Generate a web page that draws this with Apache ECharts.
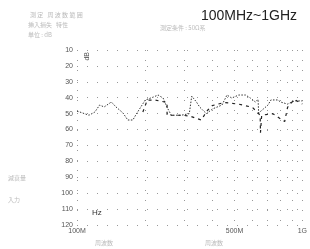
<!DOCTYPE html>
<html><head><meta charset="utf-8">
<script src="https://cdn.jsdelivr.net/npm/echarts@6/dist/echarts.min.js"></script>
<style>html,body{margin:0;padding:0;background:#fff}#c{width:310px;height:249px}</style>
</head><body><div id="c"></div>
<script>
const title = '100MHz~1GHz';
const yTicks = [10,20,30,40,50,60,70,80,90,100,110,120];
const xLabelValues = [100,500,1000];
const xLabelTexts = ['100M','500M','1G'];
const xGridValues = [100,200,300,400,500,600,700,800,900,1000];
// series 1 (dotted main curve): frequency MHz, level dB
const s1Freq = [100,103,113,120,126,132,142,149,160,168,177,182,192,201,218,229,241,251,262,290,315,323,339,350,375,400,440,463,486,522,560,588,619,636,640,650,704,725,778,801,860,922,1000];
const s1dB   = [48.5,49,51,49,44.6,45.8,42.7,45.8,49.6,54,54,51,45.8,41.4,39.6,38.3,40.2,46,51,51,50,39,42.7,45.8,50,47,44.6,38.3,40.2,38.3,38.3,40.2,42.7,41,49.6,49.6,44.6,41.4,41.4,42.7,44,42,42];
// series 2 (dashed curve)
const s2Freq = [196,205,223,251,251,292,316,356,379,398,449,520,600,636,650,652,660,740,835,860,922,1000];
const s2dB   = [49,41.5,41.5,43,51,51,51.5,54,48,45,43,44,46,49.6,51,62,51,50,55,46,41,44];

const chart = echarts.init(document.getElementById('c'), null, {renderer:'canvas'});
const font = 'Liberation Sans, Arial, sans-serif';
chart.setOption({
  animation:false,
  title:{text:title,right:8,top:4,textStyle:{fontFamily:font,fontSize:14,fontWeight:'normal',color:'#222'}},
  grid:{left:77,right:5,top:50,bottom:24},
  xAxis:{type:'log',logBase:10,min:100,max:1000,
    axisLine:{show:false},
    axisTick:{show:false,customValues:xGridValues},
    splitLine:{show:true,lineStyle:{color:'#999',type:[1,9],width:1}},
    axisLabel:{customValues:xLabelValues,fontFamily:font,fontSize:7,color:'#555',margin:3,
      formatter:v=>xLabelTexts[xLabelValues.indexOf(Math.round(v))]||''}
  },
  yAxis:{type:'value',inverse:true,min:10,max:120,interval:10,
    axisLine:{show:false},axisTick:{show:false},
    splitLine:{show:true,lineStyle:{color:'#999',type:[1,9],width:1}},
    axisLabel:{fontFamily:font,fontSize:7,color:'#555',margin:4}
  },
  series:[
    {type:'line',data:s1Freq.map((f,i)=>[f,s1dB[i]]),symbol:'none',
      lineStyle:{color:'#333',width:1,type:[1.5,1.5]}},
    {type:'line',data:s2Freq.map((f,i)=>[f,s2dB[i]]),symbol:'none',
      lineStyle:{color:'#222',width:1.2,type:[3,4]}}
  ],
  graphic:[
    {type:'text',left:84,top:52,rotation:Math.PI/2,style:{text:'dB',font:'7px '+font,fill:'#555'}},
    {type:'text',left:92,top:209,style:{text:'Hz',font:'8px '+font,fill:'#333'}},
    {type:'text',left:30,top:12,style:{text:'測 定   周 波 数 範 囲',font:'6px Noto Sans CJK JP',fill:'#bbb'}},
    {type:'text',left:28,top:22,style:{text:'挿入損失   特性',font:'6px Noto Sans CJK JP',fill:'#bbb'}},
    {type:'text',left:28,top:32,style:{text:'単位 : dB',font:'6px Noto Sans CJK JP',fill:'#bbb'}},
    {type:'text',left:160,top:25,style:{text:'測定条件 : 50Ω系',font:'6px Noto Sans CJK JP',fill:'#bbb'}},
    {type:'text',left:8,top:175,style:{text:'減衰量',font:'6px Noto Sans CJK JP',fill:'#bbb'}},
    {type:'text',left:8,top:197,style:{text:'入力',font:'6px Noto Sans CJK JP',fill:'#bbb'}},
    {type:'text',left:95,top:240,style:{text:'周波数',font:'6px Noto Sans CJK JP',fill:'#bbb'}},
    {type:'text',left:205,top:240,style:{text:'周波数',font:'6px Noto Sans CJK JP',fill:'#bbb'}}
  ]
});
</script></body></html>
